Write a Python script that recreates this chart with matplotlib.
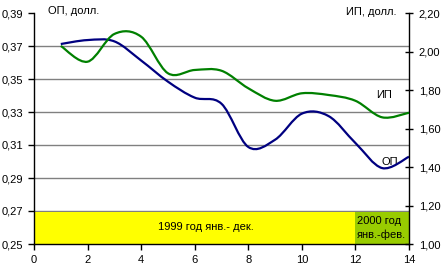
import matplotlib
matplotlib.use("Agg")
import matplotlib.pyplot as plt
from matplotlib.path import Path
from matplotlib.patches import PathPatch
from matplotlib.ticker import FuncFormatter
import numpy as np

plt.rcParams["font.family"] = ["Liberation Sans", "DejaVu Sans"]
plt.rcParams["font.size"] = 8

# months: Jan 1999 .. Feb 2000
months = [1, 2, 3, 4, 5, 6, 7, 8, 9, 10, 11, 12, 13, 14]
op = [0.3712, 0.3736, 0.3728, 0.3612, 0.3484, 0.3387, 0.3350, 0.3088,
      0.3132, 0.3290, 0.3275, 0.3112, 0.2960, 0.3029]
ip = [2.029, 1.947, 2.091, 2.077, 1.887, 1.904, 1.900, 1.809,
      1.744, 1.783, 1.774, 1.744, 1.658, 1.682]
periods = [(0, 12, "1999 год янв.- дек."), (12, 14, "2000 год\nянв.-фев.")]
period_colors = ["#ffff00", "#99cc00"]


def smooth_path(x, y):
    # excel-like smoothed line: bezier through the points
    p = np.column_stack([x, y]).astype(float)
    p = np.vstack([p[0], p, p[-1]])
    verts = [p[1]]
    codes = [Path.MOVETO]
    for i in range(1, len(p) - 2):
        c1 = p[i] + (p[i + 1] - p[i - 1]) / 6
        c2 = p[i + 1] - (p[i + 2] - p[i]) / 6
        verts += [c1, c2, p[i + 1]]
        codes += [Path.CURVE4] * 3
    return Path(verts, codes)


fig = plt.figure(figsize=(4.41, 2.65), dpi=100)
ax = fig.add_axes([34 / 441, 21 / 265, 375 / 441, 231 / 265])
ax2 = ax.twinx()

ax.set_xlim(0, 14)
ax.set_ylim(0.25, 0.39)
ax2.set_ylim(1.0, 2.2)
ax.set_xticks(range(0, 15, 2))
ax.set_yticks(np.arange(0.25, 0.3901, 0.02))
ax2.set_yticks(np.arange(1.0, 2.2001, 0.2))
ax.yaxis.set_major_formatter(FuncFormatter(lambda v, _: f"{v:.2f}".replace(".", ",")))
ax2.yaxis.set_major_formatter(FuncFormatter(lambda v, _: f"{v:.2f}".replace(".", ",")))

for t in ax.get_yticks()[1:-1]:
    ax.axhline(t, color="#808080", lw=1, zorder=1)

for (x0, x1, label), c in zip(periods, period_colors):
    ax.fill_between([x0, x1], 0.25, 0.2693, color=c, lw=0, zorder=2)
ax.text(6.4, 0.2600, periods[0][2], ha="center", va="center", zorder=3)
ax.text(12.06, 0.2597, periods[1][2], ha="left", va="center",
        linespacing=1.45, zorder=3)

ax.add_patch(PathPatch(smooth_path(months, op), fill=False,
                       edgecolor="#000080", lw=1.6, zorder=4))
ax2.add_patch(PathPatch(smooth_path(months, ip), fill=False,
                        edgecolor="#008000", lw=1.6, zorder=4))

ax.text(13.27, 0.3000, "ОП", ha="center", va="center")
ax2.text(13.06, 1.774, "ИП", ha="center", va="center")
fig.text(48 / 441, 1 - 11 / 265, "ОП, долл.", ha="left", va="center")
fig.text(397 / 441, 1 - 12 / 265, "ИП, долл.", ha="right", va="center")

for a in (ax, ax2):
    a.spines["top"].set_visible(False)
    for s in a.spines.values():
        s.set_linewidth(1)
ax.spines["right"].set_visible(False)
ax2.spines["left"].set_visible(False)
ax2.spines["bottom"].set_visible(False)
ax.tick_params(axis="both", direction="out", length=4, width=1, pad=4)
ax2.tick_params(axis="y", direction="inout", length=6, width=1, pad=4)

fig.savefig("out.png", dpi=100)
